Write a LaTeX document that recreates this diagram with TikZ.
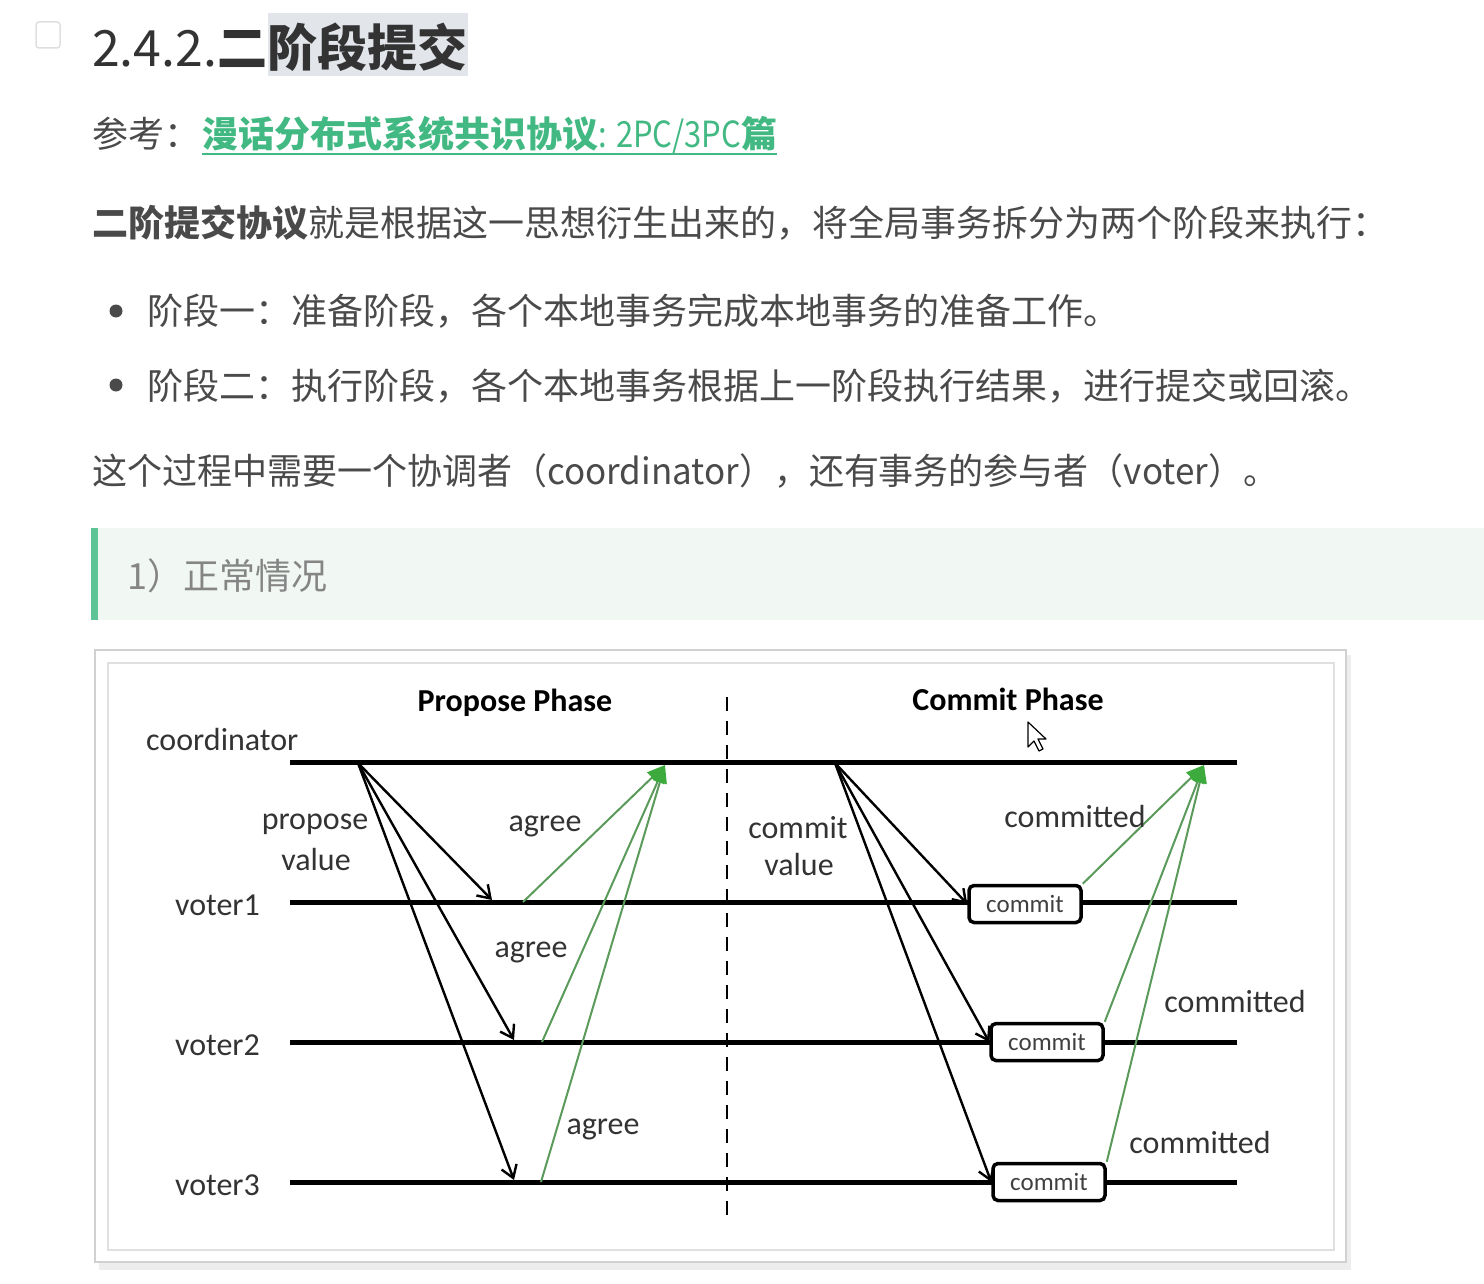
\documentclass[tikz,border=0pt]{standalone}
\usepackage{fontspec}
\setmainfont{Noto Sans CJK SC}
\newfontfamily\calfont{Carlito}
\usetikzlibrary{arrows.meta}
\definecolor{headc}{HTML}{333333}
\definecolor{bodyc}{HTML}{4A4A4A}
\definecolor{linkc}{HTML}{42B983}
\definecolor{quoteb}{HTML}{F1F8F3}
\definecolor{quotec}{HTML}{858585}
\definecolor{hlc}{HTML}{E2E5EA}
\definecolor{ackc}{HTML}{5A9A5A}
\definecolor{tipc}{HTML}{3DAA3D}
\tikzset{doc/.style={anchor=base west,inner sep=0pt,text=bodyc,font=\fontsize{36}{36}\selectfont}}
\tikzset{head/.style={anchor=base west,inner sep=0pt,text=headc,font=\bfseries\fontsize{50}{50}\selectfont}}
\tikzset{lbl/.style={anchor=base,inner sep=0pt,text=black!80,font=\calfont\fontsize{32}{32}\selectfont}}
\tikzset{phase/.style={lbl,text=black,font=\calfont\bfseries\fontsize{32}{32}\selectfont}}
\tikzset{life/.style={line width=5pt}}
\tikzset{msg/.style={line width=2.4pt,-{Straight Barb[length=12pt,width=16pt]}}}
\tikzset{ack/.style={line width=2pt,draw=ackc,-{Triangle[length=18pt,width=14pt,color=tipc]}}}
\tikzset{cbox/.style={draw,fill=white,line width=3.5pt,rounded corners=5pt,minimum width=112pt,minimum height=37pt,inner sep=0pt,text=black!75,font=\calfont\fontsize{25}{25}\selectfont}}

\begin{document}
\begin{tikzpicture}[x=1pt,y=-1pt]
\useasboundingbox (0,0) rectangle (1484,1284);

% page text
\draw[gray!25,line width=1.5pt,rounded corners=3pt] (36,22) rectangle (60,48);
\node[head] (num) at (92,67) {\mdseries 2.4.2.\bfseries 二};
\node[head,fill=hlc,text height=54pt,text depth=9pt] (ttl) at (num.base east) {阶段提交};
\node[doc] (ref) at (92,148) {参考：};
\node[doc,text=linkc] (lnk) at (202,148) {\textbf{漫话分布式系统共识协议}\scalebox{0.86}[1]{: 2PC/3PC}\textbf{篇}};
\draw[linkc,line width=2.5pt] ([yshift=-6pt]lnk.base west) -- ([yshift=-6pt]lnk.base east);
\node[doc,font=\bfseries\fontsize{36}{36}\selectfont] (p1) at (92,237) {二阶提交协议};
\node[doc] (p1b) at (p1.base east) {就是根据这一思想衍生出来的，将全局事务拆分为两个阶段来执行：};
\fill[bodyc] (116,311) circle (6.5pt);
\node[doc] (b1) at (147,324) {阶段一：准备阶段，各个本地事务完成本地事务的准备工作。};
\fill[bodyc] (116,385) circle (6.5pt);
\node[doc] (b2) at (147,399) {阶段二：执行阶段，各个本地事务根据上一阶段执行结果，进行提交或回滚。};
\node[doc] (p2) at (92,484) {\scalebox{0.972}[1]{这个过程中需要一个协调者（coordinator），还有事务的参与者（voter）。}};

% quote
\fill[quoteb] (98,528) rectangle (1484,620);
\fill[linkc!85] (91,528) rectangle (98,620);
\node[doc,text=quotec] (q) at (127,589) {1）正常情况};

% figure frame
\fill[black!7] (99,655) rectangle (1351,1270);
\filldraw[fill=white,draw=black!18,line width=2pt] (95,650) rectangle (1346,1262);
\draw[black!12,line width=1.5pt] (108,663) rectangle (1334,1250);

% phases
\node[phase] (pp) at (515,711) {Propose Phase};
\node[phase] (cp) at (1008,710) {Commit Phase};
\coordinate (dT) at (727,697);
\coordinate (dB) at (727,1217);
\draw[line width=2.8pt,dash pattern=on 14pt off 10pt] (dT) -- (dB);

% lifelines
\node[lbl,anchor=base west] (coord) at (146,750) {coordinator};
\coordinate (cL) at (290,762);
\coordinate (cR) at (1237,762);
\draw[life] (cL) -- (cR);
\foreach \n/\y in {1/902,2/1042,3/1182}{
  \coordinate (v\n L) at (290,\y);
  \coordinate (v\n R) at (1237,\y);
  \draw[life] (v\n L) -- (v\n R);
  \node[lbl,anchor=base east] (lab\n) at (260,\y+13) {voter\n};
}

% propose phase
\coordinate (p0) at (358,763);
\coordinate (pt1) at (492,900);
\coordinate (pt2) at (514,1040);
\coordinate (pt3) at (514,1180);
\foreach \n in {1,2,3} \draw[msg] (p0) -- (pt\n);
\coordinate (a0) at (665,765);
\coordinate (as1) at (523,902);
\coordinate (as2) at (542,1042);
\coordinate (as3) at (541,1182);
\foreach \n in {1,2,3} \draw[ack] (as\n) -- (a0);
\node[lbl] (pv1) at (315,829) {propose};
\node[lbl] (pv2) at (316,870) {value};
\node[lbl] (ag1) at (545,831) {agree};
\node[lbl] (ag2) at (531,957) {agree};
\node[lbl] (ag3) at (603,1134) {agree};

% commit phase
\node[cbox] (k1) at (1025,904) {commit};
\node[cbox] (k2) at (1047,1042) {commit};
\node[cbox] (k3) at (1049,1182) {commit};
\coordinate (k0) at (835,763);
\foreach \n in {1,2,3} \draw[msg] (k0) -- (k\n.west);
\coordinate (m0) at (1204,765);
\foreach \n in {1,2,3} \draw[ack] (k\n.north east) -- (m0);
\node[lbl] (cv1) at (798,838) {commit};
\node[lbl] (cv2) at (799,875) {value};
\node[lbl] (cm1) at (1075,827) {committed};
\node[lbl] (cm2) at (1235,1012) {committed};
\node[lbl] (cm3) at (1200,1153) {committed};

% mouse pointer
\filldraw[fill=white,draw=black,line width=1.2pt,line join=round]
  (1028,722) -- (1028,747) -- (1034,741) -- (1039,751) -- (1043,749) -- (1038,739) -- (1046,739) -- cycle;
\end{tikzpicture}
\end{document}
